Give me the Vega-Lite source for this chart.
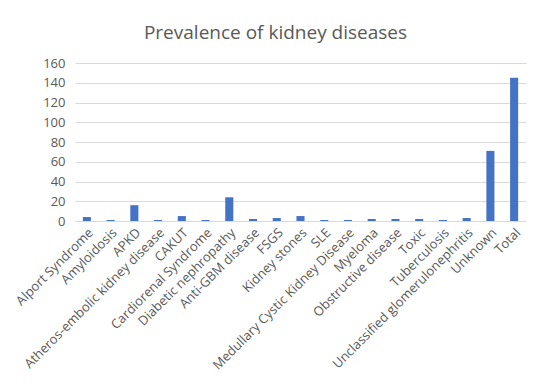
{
  "$schema": "https://vega.github.io/schema/vega-lite/v6.json",
  "autosize": "none",
  "width": 451,
  "height": 158,
  "padding": {"left": 75, "top": 63, "right": 24, "bottom": 163},
  "background": "white",
  "title": {"text": "Prevalence of kidney diseases", "fontSize": 19, "font": "Open Sans", "fontWeight": "normal", "color": "#595959", "anchor": "middle", "offset": 14, "dx": -25, "frame": "group"},
  "data": {"values": [
    {"disease": "Alport Syndrome", "count": 4},
    {"disease": "Amyloidosis", "count": 1},
    {"disease": "APKD", "count": 16},
    {"disease": "Atheros-embolic kidney disease", "count": 1},
    {"disease": "CAKUT", "count": 5},
    {"disease": "Cardiorenal Syndrome", "count": 1},
    {"disease": "Diabetic nephropathy", "count": 24},
    {"disease": "Anti-GBM disease", "count": 2},
    {"disease": "FSGS", "count": 3},
    {"disease": "Kidney stones", "count": 5},
    {"disease": "SLE", "count": 1},
    {"disease": "Medullary Cystic Kidney Disease", "count": 1},
    {"disease": "Myeloma", "count": 2},
    {"disease": "Obstructive disease", "count": 2},
    {"disease": "Toxic", "count": 2},
    {"disease": "Tuberculosis", "count": 1},
    {"disease": "Unclassified glomerulonephritis", "count": 3},
    {"disease": "Unknown", "count": 71},
    {"disease": "Total", "count": 145}
  ]},
  "mark": {"type": "bar", "color": "#4472C4"},
  "encoding": {
    "x": {"field": "disease", "type": "nominal", "sort": null,
      "scale": {"paddingInner": 0.66, "paddingOuter": 0.33},
      "axis": {"title": null, "labelAngle": -45, "labelFontSize": 13, "labelFont": "Open Sans", "labelColor": "#595959", "ticks": false, "domainColor": "#d9d9d9", "labelPadding": 5, "labelLimit": 300}},
    "y": {"field": "count", "type": "quantitative",
      "scale": {"domain": [0, 160]},
      "axis": {"title": null, "values": [0,20,40,60,80,100,120,140,160], "labelFontSize": 13, "labelFont": "Open Sans", "labelColor": "#595959", "ticks": false, "domain": false, "gridColor": "#d9d9d9", "gridWidth": 1, "labelPadding": 10}}
  },
  "config": {"view": {"stroke": null}}
}
